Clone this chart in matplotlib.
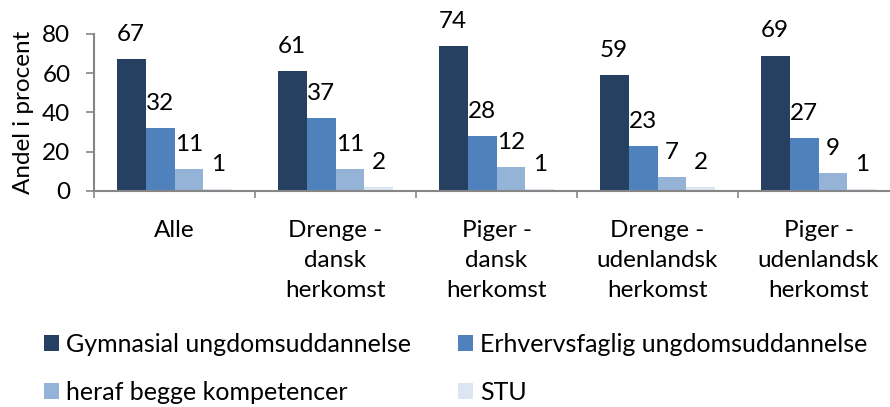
import matplotlib
matplotlib.use("Agg")
import matplotlib.pyplot as plt
import numpy as np

categories = ["Alle", "Drenge -\ndansk\nherkomst", "Piger -\ndansk\nherkomst",
              "Drenge -\nudenlandsk\nherkomst", "Piger -\nudenlandsk\nherkomst"]
series_names = ["Gymnasial ungdomsuddannelse", "Erhvervsfaglig ungdomsuddannelse",
                "heraf begge kompetencer", "STU"]
gymnasial = [67, 61, 74, 59, 69]
erhverv = [32, 37, 28, 23, 27]
begge = [11, 11, 12, 7, 9]
stu = [1, 2, 1, 2, 1]
colors = ["#254061", "#4F81BD", "#95B3D7", "#DCE6F2"]

plt.rcParams['font.family'] = ['Lato', 'DejaVu Sans']
FS = 17.5

fig = plt.figure(figsize=(8.9, 4.07), dpi=100)
ax = fig.add_axes([94/890, (407-190.7)/407, 805/890, 156.7/407])

x = np.arange(len(categories))
w = 0.18
handles = []
for i, (vals, c, name) in enumerate(zip([gymnasial, erhverv, begge, stu], colors, series_names)):
    pos = x + (i - 1.5) * w
    b = ax.bar(pos, vals, width=w, color=c, label=name, zorder=2)
    handles.append(b)
    for px, v in zip(pos, vals):
        ax.annotate(str(v), (px, v), xytext=(0, 13), textcoords='offset points',
                    ha='center', va='baseline', fontsize=FS, clip_on=False,
                    annotation_clip=False)

ax.set_xlim(-0.5, len(categories) - 0.5)
ax.set_ylim(0, 80)
ax.set_yticks([0, 20, 40, 60, 80])
ax.set_ylabel("Andel i procent", fontsize=FS, labelpad=6)

ax.set_xticks(np.arange(len(categories) + 1) - 0.5)
ax.set_xticklabels([])
ax.set_xticks(x, minor=True)
ax.set_xticklabels(categories, minor=True, fontsize=FS, linespacing=1.52)
ax.tick_params(axis='x', which='major', length=5, width=1.2, color='#868686', direction='out')
ax.tick_params(axis='x', which='minor', length=0, pad=21)
ax.tick_params(axis='y', length=6, width=1.2, color='#868686', labelsize=FS, pad=11)

for s in ['top', 'right']:
    ax.spines[s].set_visible(False)
for s in ['left', 'bottom']:
    ax.spines[s].set_color('#868686')
    ax.spines[s].set_linewidth(1.5)

order = [0, 2, 1, 3]
fig.legend(handles=[handles[i] for i in order], labels=[series_names[i] for i in order],
           loc='upper left', bbox_to_anchor=(44/890, 1 - 333/407), ncol=2, frameon=False,
           fontsize=18, handlelength=0.6, handleheight=0.6, handletextpad=0.3,
           columnspacing=1.85, labelspacing=1.0, borderaxespad=0, borderpad=0)

fig.savefig("out.png", dpi=100)
